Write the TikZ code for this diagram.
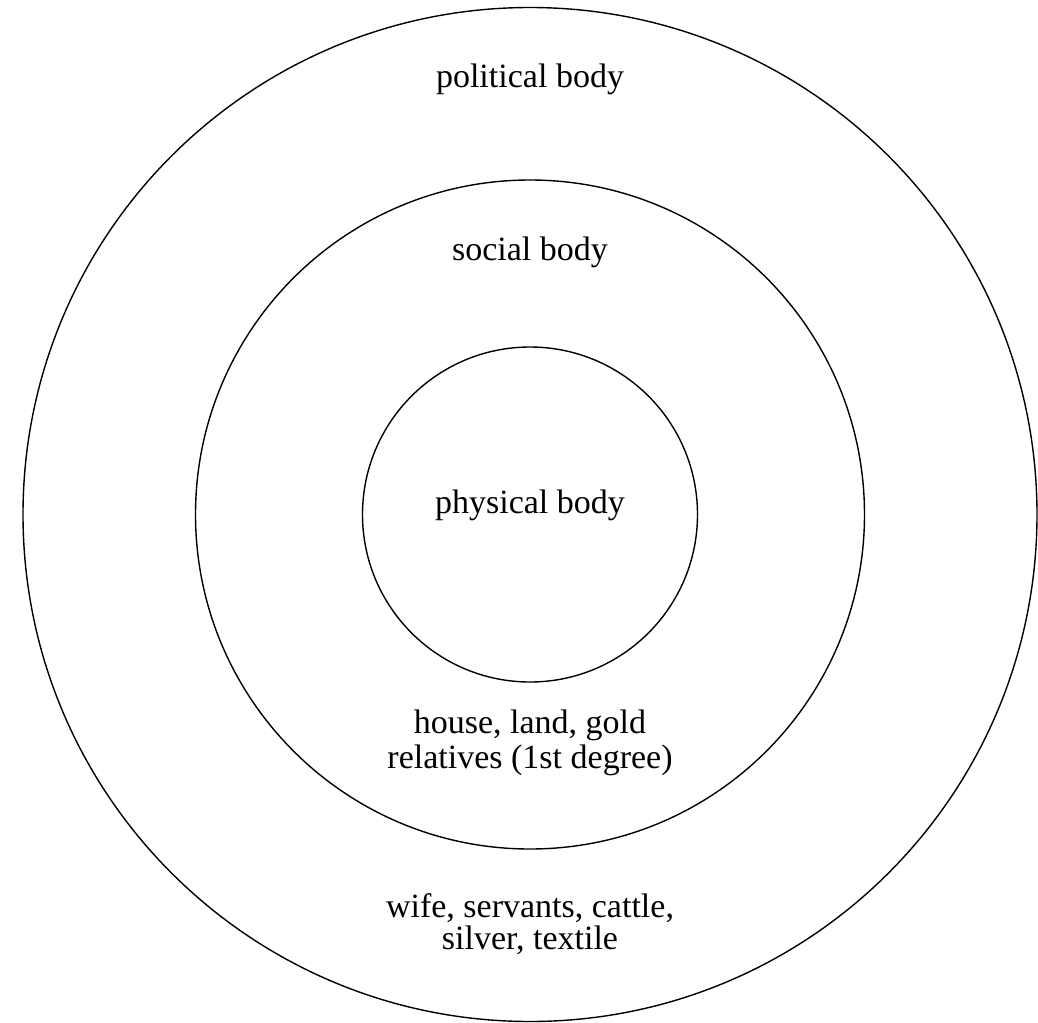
\documentclass[tikz,border=0pt]{standalone}
\usepackage{fontspec}
\setmainfont{Liberation Serif}
\begin{document}
\begin{tikzpicture}[x=1bp,y=-1bp,
  ring/.style={line width=1.4bp,draw=black},
  lbl/.style={anchor=base,inner sep=0pt,font=\fontsize{34bp}{36bp}\selectfont}]
\useasboundingbox (0,0) rectangle (1038,1023);
\coordinate (c) at (530,514.5);
\draw[ring] (c) circle[radius=507];
\draw[ring] (c) circle[radius=334.5];
\draw[ring] (c) circle[radius=167.5];
\node[lbl] (political) at (530,87) {political body};
\node[lbl] (social) at (530,260) {social body};
\node[lbl] (physical) at (530,513) {physical body};
\node[lbl] (house) at (530,733) {house, land, gold};
\node[lbl] (relatives) at (530,768) {relatives (1st degree)};
\node[lbl] (wife) at (530,917) {wife, servants, cattle,};
\node[lbl] (silver) at (530,949) {silver, textile};
\end{tikzpicture}
\end{document}
